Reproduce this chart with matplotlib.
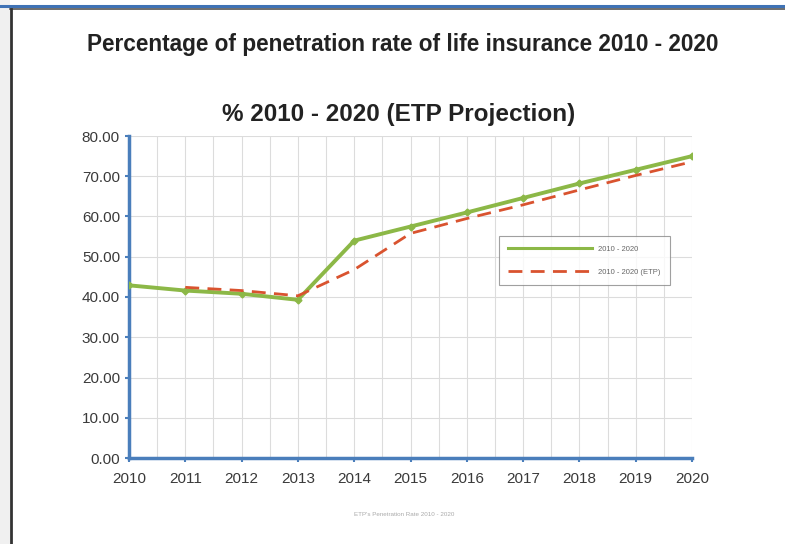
import numpy as np
import matplotlib.pyplot as plt
from matplotlib.patches import Rectangle
from matplotlib.lines import Line2D

plt.rcParams['font.family'] = ['Liberation Sans', 'DejaVu Sans']

# ====================== DATA ======================
years = [2010, 2011, 2012, 2013, 2014, 2015, 2016, 2017, 2018, 2019, 2020]
actual = [42.9, 41.6, 40.8, 39.3, 54.0, 57.5, 61.0, 64.6, 68.2, 71.6, 75.0]
etp_years = [2011, 2012, 2013, 2014, 2015, 2016, 2017, 2018, 2019, 2020]
etp = [42.4, 41.6, 40.3, 46.8, 55.8, 59.5, 62.9, 66.6, 70.2, 73.6]
y_ticks = [0, 10, 20, 30, 40, 50, 60, 70, 80]

GREEN = '#8cb847'
RED = '#d9532f'

# ====================== FIGURE ======================
fig = plt.figure(figsize=(7.85, 5.44), dpi=100)
fig.patch.set_facecolor('white')

# page frame: grey strip on the left, blue rule at top, dark border
fig.patches.append(Rectangle((0, 0), 10 / 785, 1, transform=fig.transFigure,
                             facecolor='#f0f0f0', edgecolor='none', zorder=0))
fig.add_artist(Line2D([0, 1], [1 - 6 / 544, 1 - 6 / 544], transform=fig.transFigure,
                      color='#3f72b5', lw=2.2))
fig.add_artist(Line2D([10 / 785, 1], [1 - 9 / 544, 1 - 9 / 544], transform=fig.transFigure,
                      color='#555555', lw=1.2))
fig.add_artist(Line2D([11 / 785, 11 / 785], [0, 1 - 9 / 544], transform=fig.transFigure,
                      color='#333333', lw=2.0))

ax = fig.add_axes([129 / 785, 86 / 544, 563 / 785, 322 / 544])

ax.plot(years, actual, color=GREEN, lw=2.8, marker='D', markersize=3.5, zorder=3)
ax.plot(etp_years, etp, color=RED, lw=2.0, ls=(0, (5, 3)), zorder=4)

ax.set_xlim(2010, 2020)
ax.set_ylim(0, 80)
ax.set_xticks(years)
ax.set_xticks(np.arange(2010.5, 2020, 1.0), minor=True)
ax.set_yticks(y_ticks)
ax.set_yticklabels([f'{v:.2f}' for v in y_ticks])
ax.grid(True, which='both', color='#dcdcdc', lw=0.8)
ax.set_axisbelow(True)

for s in ['top', 'right']:
    ax.spines[s].set_visible(False)
for s in ['left', 'bottom']:
    ax.spines[s].set_color('#4a7ebb')
    ax.spines[s].set_linewidth(2.5)

ax.tick_params(axis='both', which='major', labelsize=11, colors='#4a7ebb',
               labelcolor='#3a3a3a', length=3, width=1.5)
ax.tick_params(axis='both', which='minor', length=0)
ax.tick_params(axis='x', pad=7)

handles = [Line2D([], [], color=GREEN, lw=2.2),
           Line2D([], [], color=RED, lw=2.0, ls=(0, (5, 3)))]
leg = ax.legend(handles, ['2010 - 2020', '2010 - 2020 (ETP)'],
                loc='upper left', bbox_to_anchor=(0.650, 0.700), fontsize=5.5,
                frameon=True, fancybox=False, handlelength=11, borderpad=1.2,
                labelspacing=2.0, labelcolor='#666666')
leg.get_frame().set_edgecolor('#888888')
leg.get_frame().set_linewidth(0.8)

fig.text(0.513, 1 - 45 / 544, 'Percentage of penetration rate of life insurance 2010 - 2020',
         ha='center', va='center', fontsize=16.3, fontweight='bold', color='#222222')
fig.text(0.508, 1 - 114 / 544, '% 2010 - 2020 (ETP Projection)',
         ha='center', va='center', fontsize=17.5, fontweight='bold', color='#222222')
fig.text(0.515, 1 - 514 / 544, "ETP's Penetration Rate 2010 - 2020",
         ha='center', va='center', fontsize=4.5, color='#aaaaaa')

fig.savefig('out.png', dpi=100)
